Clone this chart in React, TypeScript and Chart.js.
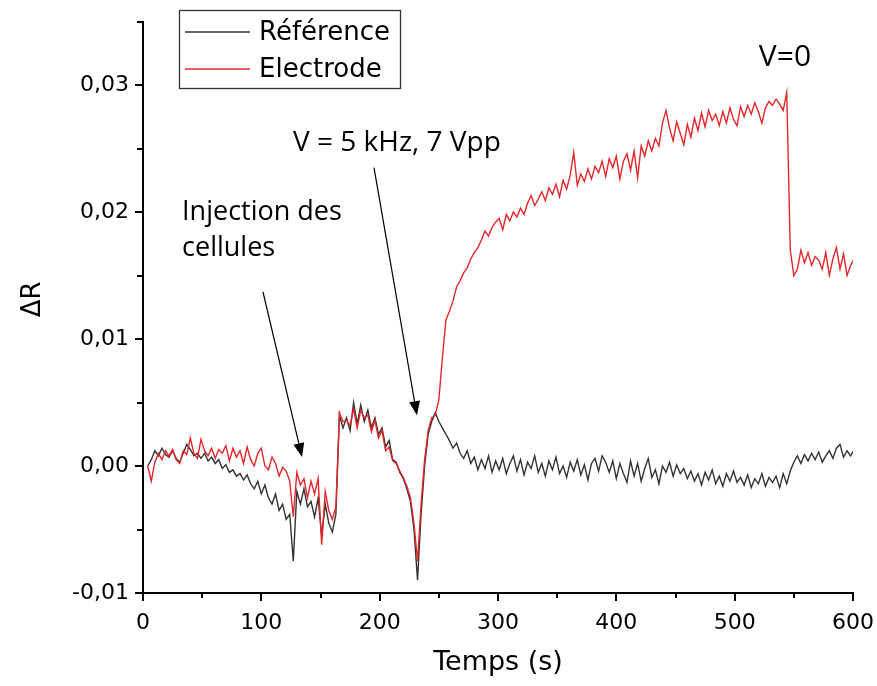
import React, { useEffect, useRef } from "react";
import { Chart, registerables } from "chart.js";

Chart.register(...registerables);

// Sampling grid (seconds)
const TIME_START = 4;
const TIME_STEP = 3;

// ΔR for the reference channel
const REFERENCE = [
  0, 0.0005, 0.0012, 0.0008, 0.0014, 0.0009, 0.0007, 0.0012, 0.0006, 0.0003,
  0.0010, 0.0017, 0.0013, 0.0008, 0.0010, 0.0006, 0.0010, 0.0004, 0.0007, 0.0002,
  0.0005, -0.0002, 0.0001, -0.0005, -0.0003, -0.0008, -0.0006, -0.0011, -0.0007, -0.0014,
  -0.0018, -0.0012, -0.0022, -0.0015, -0.0025, -0.0030, -0.0022, -0.0035, -0.0030, -0.0042,
  -0.0038, -0.0075, -0.0020, -0.0030, -0.0018, -0.0032, -0.0028, -0.0040, -0.0025, -0.0055,
  -0.0030, -0.0045, -0.0052, -0.0038, 0.0040, 0.0030, 0.0038, 0.0028, 0.0050, 0.0033,
  0.0048, 0.0035, 0.0044, 0.0030, 0.0038, 0.0025, 0.0030, 0.0015, 0.0020, 0.0005,
  0.0003, -0.0005, -0.0010, -0.0018, -0.0028, -0.0050, -0.0090, -0.0038, 0.0000, 0.0025,
  0.0035, 0.0042, 0.0035, 0.0030, 0.0025, 0.0020, 0.0014, 0.0018, 0.0010, 0.0006,
  0.0012, 0.0002, 0.0007, -0.0003, 0.0005, -0.0002, 0.0008, -0.0005, 0.0004, -0.0003,
  0.0006, -0.0006, 0.0002, 0.0008, -0.0004, 0.0005, -0.0007, 0.0003, -0.0002, 0.0008,
  -0.0005, 0.0002, -0.0008, 0.0004, -0.0003, 0.0007, -0.0006, 0.0000, -0.0009, 0.0003,
  -0.0004, 0.0005, -0.0007, 0.0001, -0.0011, 0.0002, 0.0006, -0.0004, 0.0008, 0.0003,
  -0.0005, 0.0004, -0.0010, 0.0002, -0.0006, -0.0013, 0.0004, -0.0008, 0.0002, -0.0012,
  -0.0002, 0.0006, -0.0009, -0.0003, -0.0014, 0.0000, -0.0005, 0.0003, -0.0008, 0.0001,
  -0.0006, -0.0002, -0.0010, -0.0004, -0.0012, -0.0006, -0.0015, -0.0005, -0.0011, -0.0003,
  -0.0014, -0.0008, -0.0016, -0.0006, -0.0012, -0.0004, -0.0013, -0.0009, -0.0015, -0.0007,
  -0.0017, -0.0010, -0.0014, -0.0006, -0.0016, -0.0009, -0.0013, -0.0008, -0.0017, -0.0006,
  -0.0014, -0.0004, 0.0003, 0.0008, 0.0002, 0.0009, 0.0004, 0.0010, 0.0005, 0.0011,
  0.0003, 0.0008, 0.0012, 0.0006, 0.0014, 0.0017, 0.0007, 0.0012, 0.0008, 0.0013,
];

// ΔR for the electrode channel
const ELECTRODE = [
  0, -0.0012, 0.0003, 0.0010, 0.0005, 0.0012, 0.0008, 0.0013, 0.0005, 0.0002,
  0.0012, 0.0009, 0.0022, 0.0010, 0.0006, 0.0021, 0.0012, 0.0008, 0.0014, 0.0006,
  0.0013, 0.0010, 0.0016, 0.0004, 0.0014, 0.0007, 0.0012, 0.0002, 0.0015, 0.0005,
  0.0000, 0.0010, 0.0014, 0.0000, -0.0003, 0.0007, 0.0002, -0.0008, -0.0001, -0.0004,
  -0.0012, -0.0040, -0.0005, -0.0015, -0.0010, -0.0025, -0.0012, -0.0022, -0.0010, -0.0062,
  -0.0020, -0.0035, -0.0042, -0.0032, 0.0042, 0.0035, 0.0036, 0.0032, 0.0045, 0.0030,
  0.0044, 0.0038, 0.0040, 0.0027, 0.0036, 0.0022, 0.0028, 0.0012, 0.0015, 0.0004,
  0.0002, -0.0004, -0.0009, -0.0016, -0.0025, -0.0045, -0.0075, -0.0030, 0.0005, 0.0028,
  0.0038, 0.0040, 0.0052, 0.0085, 0.0115, 0.0122, 0.0130, 0.0141, 0.0146, 0.0152,
  0.0156, 0.0163, 0.0168, 0.0172, 0.0178, 0.0185, 0.0181, 0.0188, 0.0192, 0.0195,
  0.0186, 0.0198, 0.0193, 0.0200, 0.0196, 0.0203, 0.0198, 0.0207, 0.0213, 0.0205,
  0.0210, 0.0216, 0.0209, 0.0219, 0.0214, 0.0222, 0.0212, 0.0225, 0.0218, 0.0229,
  0.0247, 0.0221, 0.0230, 0.0224, 0.0234, 0.0226, 0.0236, 0.0231, 0.0240, 0.0228,
  0.0242, 0.0235, 0.0244, 0.0226, 0.0240, 0.0246, 0.0233, 0.0248, 0.0227, 0.0252,
  0.0244, 0.0256, 0.0248, 0.0258, 0.0252, 0.0270, 0.0280, 0.0266, 0.0256, 0.0271,
  0.0262, 0.0253, 0.0269, 0.0259, 0.0274, 0.0264, 0.0278, 0.0267, 0.0280, 0.0272,
  0.0277, 0.0268, 0.0279, 0.0270, 0.0282, 0.0273, 0.0268, 0.0283, 0.0275, 0.0284,
  0.0277, 0.0286, 0.0279, 0.0270, 0.0282, 0.0287, 0.0284, 0.0289, 0.0285, 0.0280,
  0.0294, 0.0170, 0.0150, 0.0155, 0.0170, 0.0160, 0.0168, 0.0158, 0.0165, 0.0162,
  0.0155, 0.0168, 0.0150, 0.0163, 0.0172, 0.0155, 0.0167, 0.0150, 0.0158, 0.0163,
];

const SERIES_LABELS = ["Référence", "Electrode"];
const SERIES_COLORS = ["#333333", "#e5262a"];

const X_MIN = 0;
const X_MAX = 600;
const X_STEP = 100;
const X_MINOR_TICKS = [50, 150, 250, 350, 450, 550];
const Y_MIN = -0.01;
const Y_MAX = 0.035;
const Y_STEP = 0.01;
const Y_MINOR_TICKS = [-0.005, 0.005, 0.015, 0.025, 0.035];

const X_TITLE = "Temps (s)";
const Y_TITLE = "ΔR";

// Annotations (data coordinates)
const NOTE_TEXTS = [["V=0"], ["V = 5 kHz, 7 Vpp"], ["Injection des", "cellules"]];
const NOTE_X = [542.5, 126.8, 33];
const NOTE_Y = [0.0322, 0.0254, 0.02];
const NOTE_ALIGN = ["center", "left", "left"];
const NOTE_SIZE = [30, 28, 27];
const ARROW_FROM = [[101.4, 0.0137], [195.2, 0.0235]];
const ARROW_TO = [[134.4, 0.0007], [231.5, 0.004]];

const toPoints = (vals: number[]) =>
  vals.map((v, i) => ({ x: TIME_START + i * TIME_STEP, y: v }));

const decorPlugin = {
  id: "decor",
  afterDraw(chart: any) {
    const { ctx, chartArea } = chart;
    const xs = chart.scales.x;
    const ys = chart.scales.y;
    ctx.save();

    // minor ticks
    ctx.strokeStyle = "#000";
    ctx.lineWidth = 2;
    ctx.beginPath();
    X_MINOR_TICKS.forEach((v) => {
      const px = Math.round(xs.getPixelForValue(v));
      ctx.moveTo(px, chartArea.bottom);
      ctx.lineTo(px, chartArea.bottom + 5);
    });
    Y_MINOR_TICKS.forEach((v) => {
      const py = Math.round(ys.getPixelForValue(v));
      ctx.moveTo(chartArea.left, py);
      ctx.lineTo(chartArea.left - 6, py);
    });
    ctx.stroke();

    // axis titles
    ctx.fillStyle = "#000";
    ctx.textAlign = "center";
    ctx.textBaseline = "middle";
    ctx.font = "27px 'DejaVu Sans'";
    ctx.fillText(X_TITLE, (chartArea.left + chartArea.right) / 2, chartArea.bottom + 70);
    ctx.save();
    ctx.translate(chartArea.left - 110, (chartArea.top + chartArea.bottom) / 2 - 8);
    ctx.rotate(-Math.PI / 2);
    ctx.font = "26px 'DejaVu Sans'";
    ctx.fillText(Y_TITLE, 0, 0);
    ctx.restore();

    // legend
    const bx = 179.5, by = 10.5, bw = 221, bh = 78;
    ctx.lineWidth = 1.3;
    ctx.strokeStyle = "#333";
    ctx.strokeRect(bx, by, bw, bh);
    const order = [1, 0]; // dataset indices: Référence, Electrode
    order.forEach((di, k) => {
      const ds = chart.data.datasets[di];
      const ly = 32 + k * 37;
      ctx.strokeStyle = ds.borderColor;
      ctx.lineWidth = 1.3;
      ctx.beginPath();
      ctx.moveTo(185, ly);
      ctx.lineTo(250, ly);
      ctx.stroke();
      ctx.fillStyle = "#000";
      ctx.font = "26px 'DejaVu Sans'";
      ctx.textAlign = "left";
      ctx.textBaseline = "middle";
      ctx.fillText(ds.label, 259, ly + 1);
    });

    // annotations
    ctx.fillStyle = "#000";
    ctx.textBaseline = "middle";
    NOTE_TEXTS.forEach((lines, i) => {
      ctx.font = `${NOTE_SIZE[i]}px 'Open Sans'`;
      ctx.textAlign = NOTE_ALIGN[i];
      const px = xs.getPixelForValue(NOTE_X[i]);
      const py = ys.getPixelForValue(NOTE_Y[i]);
      lines.forEach((t, j) => ctx.fillText(t, px, py + j * 36));
    });

    // arrows
    ARROW_FROM.forEach((from, i) => {
      const to = ARROW_TO[i];
      const x0 = xs.getPixelForValue(from[0]);
      const y0 = ys.getPixelForValue(from[1]);
      const x1 = xs.getPixelForValue(to[0]);
      const y1 = ys.getPixelForValue(to[1]);
      const ang = Math.atan2(y1 - y0, x1 - x0);
      const hl = 14, hw = 5.5;
      const bxp = x1 - hl * Math.cos(ang);
      const byp = y1 - hl * Math.sin(ang);
      ctx.strokeStyle = "#000";
      ctx.lineWidth = 1.2;
      ctx.beginPath();
      ctx.moveTo(x0, y0);
      ctx.lineTo(bxp, byp);
      ctx.stroke();
      ctx.beginPath();
      ctx.moveTo(x1, y1);
      ctx.lineTo(bxp + hw * Math.sin(ang), byp - hw * Math.cos(ang));
      ctx.lineTo(bxp - hw * Math.sin(ang), byp + hw * Math.cos(ang));
      ctx.closePath();
      ctx.fillStyle = "#000";
      ctx.fill();
    });

    ctx.restore();
  },
};

export default function App() {
  const ref = useRef<HTMLCanvasElement | null>(null);
  useEffect(() => {
    document.body.style.margin = "0";
    const canvas = ref.current;
    if (!canvas) return;
    const tickFont = { family: "DejaVu Sans", size: 22 };
    const axisCommon = {
      grid: {
        display: true,
        drawOnChartArea: false,
        drawTicks: true,
        tickLength: 8,
        tickWidth: 2,
        tickColor: "#000",
        color: "#000",
        lineWidth: 2,
      },
      border: { display: true, color: "#000", width: 2 },
    };
    const chart = new Chart(canvas, {
      type: "line",
      data: {
        datasets: [
          {
            label: SERIES_LABELS[1],
            data: toPoints(ELECTRODE),
            borderColor: SERIES_COLORS[1],
            borderWidth: 1.4,
            pointRadius: 0,
            tension: 0,
            fill: false,
            order: 0,
          },
          {
            label: SERIES_LABELS[0],
            data: toPoints(REFERENCE),
            borderColor: SERIES_COLORS[0],
            borderWidth: 1.4,
            pointRadius: 0,
            tension: 0,
            fill: false,
            order: 1,
          },
        ],
      },
      options: {
        responsive: false,
        animation: false,
        layout: { padding: { top: 21.5, right: 24, left: 0, bottom: 0 } },
        plugins: { legend: { display: false }, tooltip: { enabled: false } },
        scales: {
          x: {
            type: "linear",
            min: X_MIN,
            max: X_MAX,
            ticks: {
              stepSize: X_STEP,
              font: tickFont,
              color: "#000",
              padding: 9,
              maxRotation: 0,
            },
            ...axisCommon,
            afterFit: (s: any) => {
              s.height = 93;
              s.paddingLeft = 0;
              s.paddingRight = 0;
            },
          },
          y: {
            type: "linear",
            min: Y_MIN,
            max: Y_MAX,
            ticks: {
              stepSize: Y_STEP,
              includeBounds: false,
              font: tickFont,
              color: "#000",
              padding: 6,
              callback: (v: any) => Number(v).toFixed(2).replace(".", ","),
            },
            ...axisCommon,
            afterFit: (s: any) => {
              s.width = 143;
              s.paddingTop = 0;
              s.paddingBottom = 0;
            },
          },
        },
      },
      plugins: [decorPlugin],
    } as any);
    return () => chart.destroy();
  }, []);
  return (
    <div style={{ width: 877, height: 686 }}>
      <canvas ref={ref} width={877} height={686} style={{ display: "block" }} />
    </div>
  );
}
